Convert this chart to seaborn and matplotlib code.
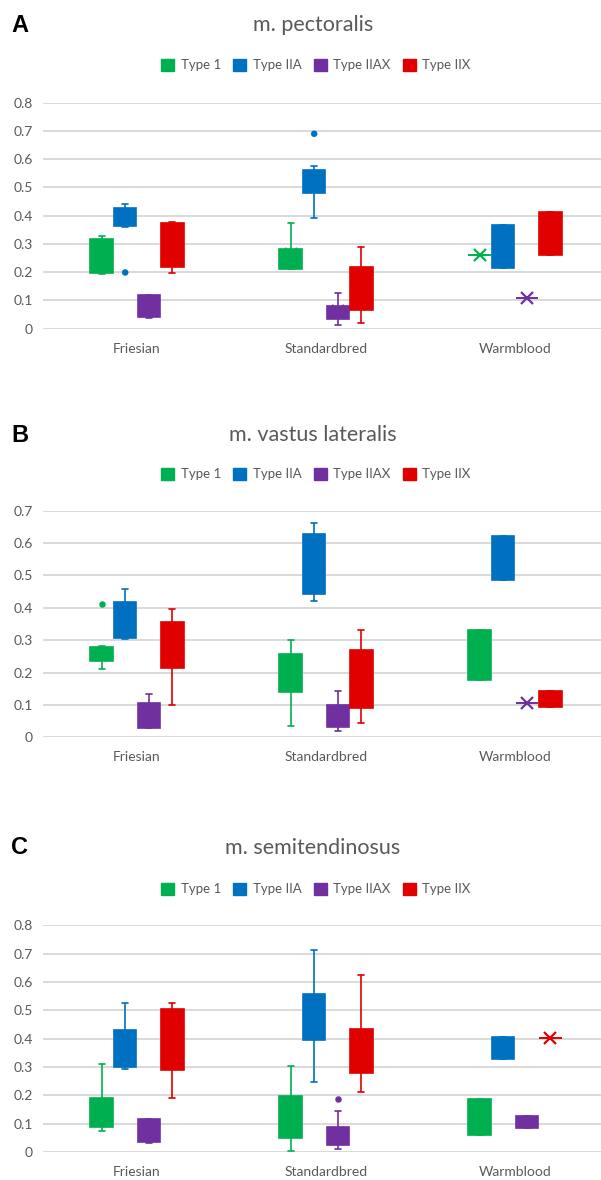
import itertools

import matplotlib
matplotlib.use("Agg")
import matplotlib.pyplot as plt
from matplotlib.patches import Patch
import pandas as pd
import seaborn as sns

sns.set_style("white")
plt.rcParams["font.family"] = ["Lato", "DejaVu Sans"]

# %% data (one entry per box, breed-major / fibre-type-minor)
breeds = ["Friesian", "Standardbred", "Warmblood"]
types = ["Type 1", "Type IIA", "Type IIAX", "Type IIX"]
colors = {"Type 1": "#00B050", "Type IIA": "#0070C0",
          "Type IIAX": "#7030A0", "Type IIX": "#E00000"}

# A - m. pectoralis
pec_lo = [0.195, 0.359, 0.038, 0.197, 0.210, 0.393, 0.012, 0.021, 0.261, 0.216, 0.109, 0.262]
pec_q1 = [0.198, 0.363, 0.042, 0.219, 0.212, 0.480, 0.034, 0.066, 0.261, 0.216, 0.109, 0.262]
pec_med = [0.26, 0.40, 0.08, 0.30, 0.25, 0.52, 0.06, 0.14, 0.261, 0.29, 0.109, 0.34]
pec_q3 = [0.319, 0.428, 0.118, 0.375, 0.283, 0.563, 0.081, 0.218, 0.261, 0.367, 0.109, 0.414]
pec_hi = [0.328, 0.441, 0.118, 0.377, 0.375, 0.575, 0.125, 0.288, 0.261, 0.367, 0.109, 0.414]
pec_out_breed = ["Friesian", "Standardbred"]
pec_out_type = ["Type IIA", "Type IIA"]
pec_out_val = [0.199, 0.690]
pec_ticks = [0, 0.1, 0.2, 0.3, 0.4, 0.5, 0.6, 0.7, 0.8]

# B - m. vastus lateralis
vas_lo = [0.212, 0.304, 0.028, 0.099, 0.034, 0.422, 0.020, 0.045, 0.178, 0.485, 0.107, 0.093]
vas_q1 = [0.237, 0.307, 0.030, 0.214, 0.139, 0.444, 0.033, 0.091, 0.178, 0.485, 0.107, 0.093]
vas_med = [0.26, 0.36, 0.07, 0.28, 0.20, 0.54, 0.07, 0.18, 0.25, 0.55, 0.107, 0.12]
vas_q3 = [0.279, 0.417, 0.105, 0.355, 0.258, 0.629, 0.101, 0.271, 0.333, 0.621, 0.107, 0.143]
vas_hi = [0.282, 0.458, 0.133, 0.397, 0.301, 0.663, 0.143, 0.330, 0.333, 0.621, 0.107, 0.143]
vas_out_breed = ["Friesian"]
vas_out_type = ["Type 1"]
vas_out_val = [0.411]
vas_ticks = [0, 0.1, 0.2, 0.3, 0.4, 0.5, 0.6, 0.7]

# C - m. semitendinosus
sem_lo = [0.073, 0.294, 0.031, 0.192, 0.004, 0.248, 0.009, 0.212, 0.061, 0.328, 0.085, 0.402]
sem_q1 = [0.089, 0.300, 0.036, 0.291, 0.048, 0.396, 0.025, 0.279, 0.061, 0.328, 0.085, 0.402]
sem_med = [0.14, 0.36, 0.08, 0.40, 0.12, 0.47, 0.06, 0.35, 0.12, 0.37, 0.105, 0.402]
sem_q3 = [0.191, 0.431, 0.118, 0.505, 0.196, 0.559, 0.089, 0.433, 0.188, 0.405, 0.126, 0.402]
sem_hi = [0.312, 0.527, 0.118, 0.527, 0.305, 0.712, 0.144, 0.624, 0.188, 0.405, 0.126, 0.402]
sem_out_breed = ["Standardbred"]
sem_out_type = ["Type IIAX"]
sem_out_val = [0.187]
sem_ticks = [0, 0.1, 0.2, 0.3, 0.4, 0.5, 0.6, 0.7, 0.8]

GRAY = "#595959"
BOX_W = 0.5


def long_table(lo, q1, med, q3, hi):
    # five-number summary per box -> 5 points, so quartiles come out exactly
    rows = []
    for i, (b, t) in enumerate(itertools.product(breeds, types)):
        for v in (lo[i], q1[i], med[i], q3[i], hi[i]):
            rows.append((b, t, v))
    return pd.DataFrame(rows, columns=["breed", "type", "value"])


def draw_panel(ax, df, out_b, out_t, out_v, ticks):
    for t in types:
        c = colors[t]
        sns.boxplot(data=df[df["type"] == t], x="breed", y="value", hue="type",
                    order=breeds, hue_order=types, palette=colors, dodge=True,
                    saturation=1, width=BOX_W, gap=0.06, whis=(0, 100),
                    linecolor=c, linewidth=1.2, showmeans=True,
                    meanprops=dict(marker="x", markeredgecolor=c, markerfacecolor=c,
                                   markersize=8, markeredgewidth=1.6),
                    capwidths=0.032, legend=False, ax=ax)
    # outlier dots at the same dodge offsets seaborn uses
    each = BOX_W / len(types)
    xs = [breeds.index(b) + (types.index(t) - 1.5) * each for b, t in zip(out_b, out_t)]
    ax.scatter(xs, out_v, s=22, c=[colors[t] for t in out_t], linewidths=0, zorder=4)

    ax.set_xlim(-0.5, 2.455)
    ax.set_ylim(0, ticks[-1])
    ax.set_yticks(ticks)
    ax.set_yticklabels([f"{v:g}" for v in ticks])
    ax.set_xlabel("")
    ax.set_ylabel("")
    ax.grid(axis="y", color="#d9d9d9", linewidth=1.4)
    ax.grid(axis="x", visible=False)
    ax.set_axisbelow(True)
    for s in ax.spines.values():
        s.set_visible(False)
    ax.tick_params(axis="both", length=0, labelsize=10, labelcolor=GRAY)
    ax.tick_params(axis="y", pad=7)
    ax.tick_params(axis="x", pad=10)


W, H = 601, 1180
fig = plt.figure(figsize=(W / 100, H / 100), dpi=100)

panels = [
    ("A", "m. pectoralis", long_table(pec_lo, pec_q1, pec_med, pec_q3, pec_hi),
     pec_out_breed, pec_out_type, pec_out_val, pec_ticks, 102.7, 328.7, 25, 65),
    ("B", "m. vastus lateralis", long_table(vas_lo, vas_q1, vas_med, vas_q3, vas_hi),
     vas_out_breed, vas_out_type, vas_out_val, vas_ticks, 510.7, 737.3, 435, 474),
    ("C", "m. semitendinosus", long_table(sem_lo, sem_q1, sem_med, sem_q3, sem_hi),
     sem_out_breed, sem_out_type, sem_out_val, sem_ticks, 925.3, 1152.0, 848, 889),
]

handles = [Patch(facecolor=colors[t], edgecolor=colors[t]) for t in types]

for letter, title, df, ob, ot, ov, ticks, top, bot, ty, ly in panels:
    ax = fig.add_axes([42.5 / W, 1 - bot / H, 1 - 42.5 / W, (bot - top) / H])
    draw_panel(ax, df, ob, ot, ov, ticks)
    fig.text(20 / W, 1 - ty / H, letter, ha="center", va="center", fontsize=17,
             fontweight="bold", family="Liberation Sans", color="black")
    fig.text(313 / W, 1 - ty / H, title, ha="center", va="center", fontsize=15.5, color=GRAY)
    fig.legend(handles=handles, labels=types, loc="center", bbox_to_anchor=(316 / W, 1 - ly / H),
               ncol=4, frameon=False, handlelength=1.0, handleheight=1.0, handletextpad=0.5,
               columnspacing=0.9, fontsize=9.5, labelcolor=GRAY, borderpad=0)

fig.savefig("out.png", dpi=100)
